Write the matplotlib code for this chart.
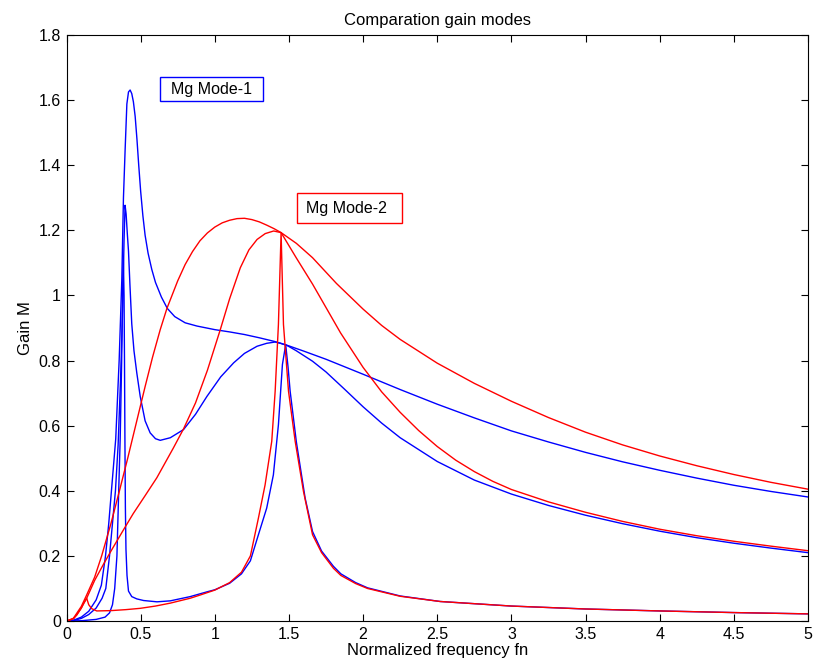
import matplotlib
matplotlib.use("Agg")
import matplotlib.pyplot as plt
from matplotlib.patches import Rectangle

plt.rcParams['font.family'] = ['Liberation Sans', 'DejaVu Sans']

# Mode-1 curves (blue)
b1_x = [0, 0.05, 0.1, 0.15, 0.2, 0.235, 0.263, 0.285, 0.303, 0.332, 0.355, 0.373, 0.384,
        0.395, 0.407, 0.418, 0.429, 0.44, 0.451, 0.463, 0.475, 0.487, 0.5, 0.515, 0.53,
        0.55, 0.575, 0.6, 0.64, 0.68, 0.73, 0.8, 0.88, 1.0, 1.1, 1.2, 1.3, 1.4, 1.5, 1.6,
        1.75, 2.0, 2.25, 2.5, 2.75, 3.0, 3.25, 3.5, 3.75, 4.0, 4.25, 4.5, 4.75, 5.0]
b1_y = [0, 0.003, 0.012, 0.03, 0.065, 0.11, 0.2, 0.3, 0.4, 0.56, 0.8, 1.05, 1.3,
        1.444, 1.588, 1.625, 1.631, 1.62, 1.595, 1.55, 1.48, 1.4, 1.32, 1.245, 1.185,
        1.13, 1.08, 1.04, 0.995, 0.96, 0.935, 0.916, 0.906, 0.895, 0.888, 0.88, 0.87, 0.859, 0.845, 0.829,
        0.804, 0.758, 0.711, 0.666, 0.624, 0.584, 0.55, 0.518, 0.489, 0.463, 0.439, 0.417, 0.398, 0.381]

b2_x = [0, 0.05, 0.1, 0.15, 0.2, 0.24, 0.265, 0.29, 0.31, 0.33, 0.348, 0.365, 0.378, 0.388,
        0.395, 0.402, 0.41, 0.418, 0.428, 0.44, 0.455, 0.474, 0.497, 0.53, 0.564, 0.6, 0.632,
        0.7, 0.789, 0.87, 0.947, 1.04, 1.127, 1.2, 1.285, 1.35, 1.407, 1.445, 1.485, 1.55,
        1.659, 1.75, 1.875, 2.0, 2.125, 2.25, 2.5, 2.75, 3.0, 3.25, 3.5, 3.75, 4.0, 4.25, 4.5, 4.75, 5.0]
b2_y = [0, 0.002, 0.008, 0.02, 0.04, 0.07, 0.1, 0.2, 0.3, 0.4, 0.54, 0.75, 0.95, 1.17,
        1.277, 1.25, 1.19, 1.136, 1.03, 0.913, 0.83, 0.762, 0.69, 0.615, 0.578, 0.56, 0.555,
        0.563, 0.588, 0.635, 0.69, 0.75, 0.793, 0.822, 0.844, 0.853, 0.857, 0.853, 0.847, 0.83,
        0.798, 0.765, 0.712, 0.658, 0.608, 0.563, 0.49, 0.433, 0.39, 0.355, 0.325, 0.299, 0.276, 0.256, 0.239, 0.224, 0.21]

b3_x = [0, 0.1, 0.2, 0.26, 0.29, 0.31, 0.325, 0.34, 0.352, 0.362, 0.372, 0.378, 0.383,
        0.388, 0.391, 0.394, 0.397, 0.401, 0.408, 0.418, 0.44, 0.474, 0.52, 0.61, 0.7, 0.834,
        0.95, 1.0, 1.1, 1.18, 1.24, 1.294, 1.35, 1.395, 1.429, 1.456, 1.478, 1.494, 1.508,
        1.55, 1.609, 1.659, 1.72, 1.8, 1.85, 1.95, 2.03, 2.25, 2.52, 3.0, 3.5, 4.0, 4.5, 5.0]
b3_y = [0, 0.001, 0.005, 0.012, 0.025, 0.05, 0.1, 0.2, 0.4, 0.56, 0.8, 1.0, 1.12,
        1.0, 0.8, 0.55, 0.35, 0.22, 0.14, 0.092, 0.075, 0.068, 0.063, 0.059, 0.062, 0.075,
        0.09, 0.096, 0.116, 0.145, 0.185, 0.265, 0.347, 0.449, 0.603, 0.788, 0.849, 0.78, 0.706,
        0.55, 0.378, 0.275, 0.215, 0.168, 0.145, 0.118, 0.102, 0.077, 0.06, 0.046, 0.037, 0.031, 0.026, 0.022]

# Mode-2 curves (red)
r1_x = [0, 0.046, 0.1, 0.136, 0.19, 0.237, 0.3, 0.357, 0.41, 0.45, 0.49, 0.53, 0.58,
        0.632, 0.677, 0.75, 0.8, 0.85, 0.9, 0.95, 1.0, 1.05, 1.1, 1.15, 1.2, 1.25, 1.3,
        1.35, 1.4, 1.447, 1.55, 1.659, 1.82, 2.0, 2.125, 2.25, 2.5, 2.75, 3.0, 3.25, 3.5, 3.75,
        4.0, 4.25, 4.5, 4.75, 5.0]
r1_y = [0, 0.008, 0.045, 0.08, 0.135, 0.2, 0.3, 0.4, 0.495, 0.57, 0.645, 0.72, 0.81,
        0.895, 0.96, 1.045, 1.095, 1.135, 1.168, 1.192, 1.21, 1.223, 1.231, 1.236, 1.237, 1.233, 1.226,
        1.216, 1.205, 1.193, 1.16, 1.116, 1.037, 0.958, 0.908, 0.865, 0.792, 0.73, 0.675, 0.625, 0.58, 0.541,
        0.507, 0.477, 0.45, 0.426, 0.405]

r2_x = [0, 0.05, 0.1, 0.136, 0.19, 0.25, 0.3, 0.384, 0.45, 0.53, 0.609, 0.72, 0.789, 0.87,
        0.95, 1.037, 1.1, 1.172, 1.23, 1.285, 1.34, 1.397, 1.447, 1.55, 1.659, 1.848, 2.0,
        2.125, 2.25, 2.375, 2.5, 2.625, 2.75, 2.875, 3.0, 3.25, 3.5, 3.75, 4.0, 4.25, 4.5, 4.75, 5.0]
r2_y = [0, 0.008, 0.04, 0.07, 0.125, 0.175, 0.215, 0.28, 0.33, 0.385, 0.44, 0.531, 0.59, 0.67,
        0.77, 0.895, 0.99, 1.085, 1.14, 1.172, 1.19, 1.198, 1.193, 1.115, 1.035, 0.885, 0.779,
        0.704, 0.641, 0.585, 0.536, 0.494, 0.459, 0.429, 0.404, 0.366, 0.334, 0.306, 0.282, 0.262, 0.245, 0.23, 0.216]

r3_x = [0, 0.04, 0.069, 0.1, 0.114, 0.136, 0.15, 0.17, 0.204, 0.3, 0.4, 0.497, 0.6, 0.7,
        0.834, 0.902, 1.0, 1.1, 1.18, 1.24, 1.294, 1.339, 1.384, 1.407, 1.429, 1.447, 1.463,
        1.497, 1.542, 1.598, 1.659, 1.72, 1.8, 1.85, 1.95, 2.03, 2.25, 2.52, 3.0, 3.5, 4.0, 4.5, 5.0]
r3_y = [0, 0.006, 0.018, 0.04, 0.054, 0.07, 0.05, 0.038, 0.031, 0.032, 0.035, 0.039, 0.046, 0.055,
        0.07, 0.08, 0.095, 0.118, 0.15, 0.2, 0.316, 0.418, 0.552, 0.706, 0.911, 1.193, 0.911,
        0.706, 0.552, 0.398, 0.265, 0.21, 0.162, 0.14, 0.115, 0.1, 0.076, 0.06, 0.046, 0.037, 0.031, 0.026, 0.022]

fig = plt.figure(figsize=(8.15, 6.69), dpi=100)
ax = fig.add_axes([0.0816, 0.0717, 0.9098, 0.876])

for xs, ys in [(b1_x, b1_y), (b2_x, b2_y), (b3_x, b3_y)]:
    ax.plot(xs, ys, color='b', lw=1.0)
for xs, ys in [(r1_x, r1_y), (r2_x, r2_y), (r3_x, r3_y)]:
    ax.plot(xs, ys, color='r', lw=1.0)

ax.set_xlim(0, 5)
ax.set_ylim(0, 1.8)
ax.set_xticks([0, 0.5, 1, 1.5, 2, 2.5, 3, 3.5, 4, 4.5, 5])
ax.set_xticklabels(['0', '0.5', '1', '1.5', '2', '2.5', '3', '3.5', '4', '4.5', '5'])
ax.set_yticks([0, 0.2, 0.4, 0.6, 0.8, 1, 1.2, 1.4, 1.6, 1.8])
ax.set_yticklabels(['0', '0.2', '0.4', '0.6', '0.8', '1', '1.2', '1.4', '1.6', '1.8'])
ax.tick_params(direction='in', top=True, right=True, length=5, width=0.8,
               labelsize=11.5, pad=4)
for s in ax.spines.values():
    s.set_linewidth(0.8)

ax.set_title('Comparation gain modes', fontsize=12, pad=7)
ax.set_xlabel('Normalized frequency fn', fontsize=12, labelpad=1)
ax.set_ylabel('Gain M', fontsize=12, labelpad=4)

# annotation boxes
ax.add_patch(Rectangle((0.632, 1.597), 0.696, 0.074, fill=False, ec='b', lw=1.0))
ax.text(0.98, 1.634, 'Mg Mode-1', fontsize=11.5, ha='center', va='center')
ax.add_patch(Rectangle((1.551, 1.222), 0.709, 0.092, fill=False, ec='r', lw=1.0))
ax.text(1.89, 1.268, 'Mg Mode-2', fontsize=11.5, ha='center', va='center')

fig.savefig('out.png', dpi=100)
